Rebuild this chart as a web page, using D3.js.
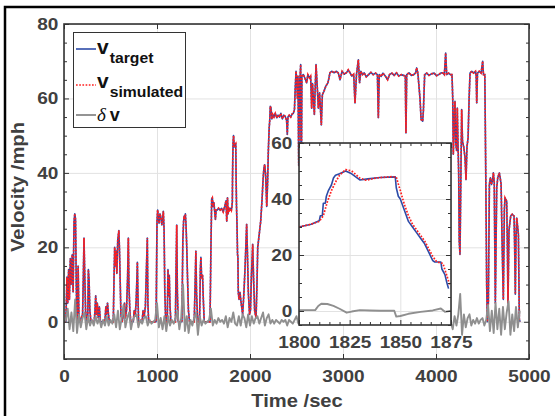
<!DOCTYPE html>
<html>
<head>
<meta charset="utf-8">
<script src="https://cdn.jsdelivr.net/npm/d3@7"></script>
<style>
  body { margin: 0; background: #fff; }
  svg { display: block; font-family: "Liberation Sans", Arial, sans-serif; }
</style>
</head>
<body>
<svg id="chart" width="555" height="416"></svg>
<script>
// ============ Data ============
// main trace, [time s, speed mph]
const targetMain = [
  [0,0],[20,0],[32,12],[40,5],[50,14],[58,6],[68,17],[76,10],[88,18],[98,8],[108,27],[116,29],[124,27.5],[132,10],[140,0],
  [146,0],[152,15],[160,2],[170,0],[200,2],[208,12],[215,22.5],[222,14],[232,3],[245,0],[255,0],[262,14],[270,11],[278,3],[290,0],
  [325,0],[333,3],[341,7],[348,2],[358,5],[368,1],[380,4],[392,0],[440,0],[450,4],[458,2],[468,5],[478,2],[488,0],
  [530,0],[538,12],[545,20],[552,15],[560,19],[568,13],[578,22],[590,24.5],[597,19],[604,11],[612,2],[625,0],[640,2],[650,5],[660,1],
  [672,3],[684,12],[692,22.5],[698,10],[708,3],[718,0],[745,0],[755,3],[765,1.5],[775,5],[782,10],[789,16],[795,7],[802,0],
  [840,0],[850,3],[862,1.5],[875,4],[886,14],[896,22.5],[902,5],[910,0],[990,0],[1000,27],[1007,30],[1014,28],[1022,26.5],
  [1032,29],[1042,28],[1052,26],[1062,28],[1068,29.7],[1076,25],[1084,8],[1094,0],[1110,0],[1118,14],[1125,7],[1132,12.5],[1140,4],[1150,0],
  [1198,0],[1205,14],[1212,26],[1219,8],[1228,0],[1268,0],[1278,22],[1286,27],[1292,28.4],[1298,27.5],[1305,29],[1312,26],[1320,20],
  [1328,12],[1338,3],[1350,0],[1400,0],[1410,10],[1418,19],[1425,8],[1434,2],[1444,0],[1458,0],[1466,14],[1472,17.3],[1480,11.8],
  [1490,12.5],[1498,6],[1508,0],[1570,0],
  [1580,20],[1588,33],[1595,33.3],[1603,31],[1612,32],[1620,29.7],[1628,27.5],[1636,30],[1648,30],[1662,30.5],[1678,30],[1695,30.5],
  [1712,29.5],[1728,31],[1742,32.5],[1750,27],[1758,33.3],[1765,29],[1772,30.6],[1782,30],[1792,30.5],[1800,30],[1806,31],[1810,32.2],
  [1812,38],[1815,44],[1818,48],[1823,50],[1827,48.5],[1832,47],[1840,47.7],[1847,47.9],[1850,40],[1855,31],[1860,26.5],[1866,18],
  [1870,17.5],[1874,8],[1882,6],[1892,7.9],[1905,5],[1921,2],[1935,8],[1946,14],[1955,20],[1964,26.2],[1972,19],[1982,8],[1995,2],
  [2005,3],[2015,12],[2029,20.8],[2038,12],[2050,3],[2065,1],[2075,10],[2083,19.9],[2095,22.6],[2115,27],[2130,33],[2140,38],
  [2150,41.4],[2158,42.2],[2168,39.6],[2180,31],[2190,38],[2197,45.8],[2206,52],[2212,54],[2218,57.9],[2226,57.4],
  [2235,54.5],[2245,55.7],[2258,55],[2272,56],[2288,54.8],[2302,55.5],[2318,55],[2332,56],[2348,54.5],[2362,55.5],[2378,55.2],
  [2394,54],[2401,50.3],[2408,55],[2422,55.5],[2438,55],[2452,55.8],[2466,56],[2478,57],[2487,63],[2495,67.3],[2502,65],[2510,60],
  [2516,66],[2524,42],[2532,64],[2540,66.5],[2545,69.1],[2551,30],[2558,66],[2573,66.4],[2590,65.5],[2609,64.2],[2622,66.4],
  [2640,65.5],[2652,66],[2663,57.4],[2672,64],[2692,55.7],[2700,62],[2710,69.1],[2722,63.7],[2735,57.4],[2748,61.5],[2767,52.9],
  [2778,61],[2795,61.9],[2815,63.3],[2838,64.2],[2860,66.9],[2878,67.3],[2905,66.9],[2930,67.3],[2950,66.8],[2968,65],[2990,67.3],
  [3015,66.5],[3040,67],[3057,67.7],[3075,66.9],[3095,66],[3115,66.5],[3129,58.8],[3145,66.4],[3165,70.4],[3178,64.2],[3192,67.3],
  [3210,66.4],[3228,66.9],[3250,65.8],[3275,66.4],[3300,67],[3325,66.4],[3350,66.8],[3370,66.4],[3380,54.8],[3390,66.4],[3410,65.9],
  [3430,66.8],[3455,66],[3480,65],[3500,66.4],[3525,66.8],[3550,66.2],[3575,66.9],[3600,66],[3625,66.4],[3650,66.2],[3670,66],
  [3677,50.7],[3685,66.4],[3710,66.9],[3735,66.2],[3760,66.4],[3780,66.8],[3792,68.2],[3805,66.8],[3828,60],[3840,54.3],[3857,53.9],
  [3865,57],[3878,66.4],[3900,66.8],[3925,66.2],[3950,66.6],[3980,66.8],[4005,66.1],[4030,66.4],[4055,66.9],[4075,66.8],[4090,66.4],
  [4104,72.2],[4115,66.4],[4135,66.8],[4155,66.4],[4172,66.4],
  [4180,60],[4186,45],[4194,52],[4204,59.2],[4212,48],[4222,46],[4229,57.4],[4236,48.5],[4244,40],[4250,21.7],[4258,18.1],
  [4268,40],[4276,57],[4285,48.5],[4300,46.7],[4312,44],[4323,38.2],[4333,47],[4345,49.4],[4356,60],[4366,66.8],[4385,67.3],
  [4405,66.8],[4425,67.3],[4432,66],[4438,58.8],[4446,66.8],[4465,67.3],[4485,66.8],[4497,69],[4502,70],[4510,66.4],[4525,66.4],
  [4535,40],[4545,10],[4552,0],[4563,5.2],[4574,36.9],[4585,38.7],[4596,36.9],[4608,38],[4617,40],[4626,37.6],[4638,5],[4653,36],
  [4664,38.7],[4681,40],[4690,38.7],[4700,36.9],[4712,20],[4724,6],[4735,30],[4742,33.3],[4760,32.4],[4768,20],[4774,5],[4785,24.6],
  [4803,28.4],[4820,28.9],[4839,28.4],[4846,20],[4853,7.4],[4860,22],[4868,27.9],[4886,23.5],[4892,10],[4896,0.6],[4905,0]
];
// the simulated trace sits on the target at this scale
const simulatedMain = targetMain;

// speed error, one sample every 20 s from t = 0
const dvStart = 0, dvStep = 20;
const deltaMain = [
  0, 0.5, 3.5, -2, 2.5, -2.5, 6, -3, 2, -1.5,
  1, 2.5, -2, 1.5, -1, 0.5, -1, 1.5, -0.5, 1,
  -1.5, 0.5, -1, 1.5, -1, 0.5, -0.5, 2, -1.5, 3,
  -2, 1, 4.5, -1.5, 1, 2.5, -2, 0.5, 1.5, 2,
  -1.5, 0.5, -0.5, 1, 1.5, -1, 0.5, -0.5, 0, 0.5,
  5, -1.5, 1, -2, 1.5, -2.5, 1.5, -1, 0.5, -0.5,
  1, 3, -2, 1, 10, -2.5, 1.5, -3, 0.5, -1,
  1, 2.5, -3.5, 1.5, -1, 0.5, -0.5, 0, 0.5, 3.5,
  -1, 0.5, -0.5, 1, 0, 0.5, -0.5, 1.5, -1.5, 1,
  0, 2.5, -0.5, -1, 1.5, -1, 2, 1, -1.5, 2,
  -1, 1.5, -0.5, 1, 1.5, -0.5, 1, 2.5, -1, 1,
  2, -0.5, 0.5, -0.5, 0.5, 0, -0.5, 0.5, 0, 0.5,
  -1, 0.5, 0, -0.5, 0.5, 1.5, -0.5, 0.3, -0.4, 0.2,
  -0.3, 0.4, -0.2, 0.3, -0.5, 0.2, 0.4, -0.3, 0.1, -0.4,
  0.3, -0.2, 0.4, -0.3, 0.2, -0.5, 0.3, 0.1, -0.2, 0.4,
  -0.3, 0.2, -0.4, 0.3, 0.1, -0.2, 0.4, -0.3, 0.5, -0.4,
  0.2, -0.1, 0.3, -0.4, 0.2, 0.1, -0.3, 0.4, -0.2, 0.5,
  -0.4, 0.2, -0.1, 0.3, -0.3, 0.2, 0.4, -0.2, 0.1, -0.3,
  0.3, -0.4, 0.2, 0.5, -0.5, 0.2, -0.1, 0.3, -0.2, 0.4,
  -0.3, 0.5, -0.4, 0.2, 0.1, -0.3, 0.3, -0.2, 0.2, -0.1,
  0.3, -0.2, 0.4, -0.3, 0.2, 0.5, -0.4, 0.2, -0.3, -2,
  1.5, -1, 2, 7.5, -3.5, 2, -1.5, 1, 2, -1,
  0.5, -0.5, 1, -0.5, 0.5, 1, -1, 0.5, 4.5, -2.5,
  3, -3, 5, -2, 3.5, -3.5, 4, -2, 2.5, 5.5,
  -3.5, 2, -2.5, 4, -1.5, 3
];

// zoomed window 1800-1875 s
const targetZoom = [
  [1800,30],[1806,31],[1810,32.2],[1810.5,34],[1811.5,34],[1812,38.5],[1813,38.5],[1813.5,41],[1814.5,43],[1816,45],
  [1817,47.5],[1818,48.5],[1820,49],[1823,50],[1826,49],[1830,46.8],[1834,47.2],[1840,47.7],[1847.5,47.9],[1848,44],
  [1849,41],[1850,40],[1852,36],[1854,32],[1856,30],[1858,28],[1860,26],[1862,24],[1864,21],[1866,18],[1867,17.5],
  [1870,17.5],[1870.5,15],[1872,13],[1873,10],[1873.8,8]
];
const simulatedZoom = [
  [1800,30],[1806,31],[1810,32],[1812,34],[1814,39],[1816,43],[1818,46],[1820,48.5],[1823,50.5],[1826,50],[1830,47.5],
  [1833,46.7],[1838,47.5],[1846,48],[1848,47.8],[1850,43],[1852,38],[1854,34],[1856,31],[1858,29],[1862,25],[1866,19.5],
  [1868,17.5],[1871,17],[1873,12.5],[1874.5,9]
];
const deltaZoom = [
  [1800,0.3],[1808,0.3],[1809.5,1.8],[1811,2.6],[1814,2.5],[1817,1.8],[1820,0.8],[1823.5,-0.6],[1826,-0.2],[1830,0.3],
  [1835,0.2],[1840,0.1],[1847,0.1],[1848,-2],[1850,-1.8],[1854,-1],[1860,-0.3],[1866,0.2],[1870,0.9],[1872,-0.3],[1875,0.1]
];

const mainXTicks = [0, 1000, 2000, 3000, 4000, 5000];
const mainYTicks = [0, 20, 40, 60, 80];
const mainYMinor = [-10, -5, 5, 10, 15, 25, 30, 35, 45, 50, 55, 65, 70, 75];
const zoomXTicks = [1800, 1825, 1850, 1875];
const zoomXMinor = [1805, 1810, 1815, 1820, 1830, 1835, 1840, 1845, 1855, 1860, 1865, 1870];
const zoomYTicks = [0, 20, 40, 60];
const zoomYMinor = [-5, 5, 10, 15, 25, 30, 35, 45, 50, 55];

// ============ Styles ============
const INK = '#404040', AXIS = '#333333', GRID = '#e2e2e2';
const BLUE = '#2c4ba8', RED = '#ff1f1f', GREY = '#8f8f8f';
const SX = 1.12; // glyphs in the reference are a bit wider than Arial

const svg = d3.select('#chart');

// outer frame (only top and left edges show)
svg.append('path').attr('d', 'M5,416V7H555')
  .attr('fill', 'none').attr('stroke', '#000').attr('stroke-width', 2.5);

// ============ Main axes ============
const x = d3.scaleLinear().domain([0, 5000]).range([64, 529]);
const y = d3.scaleLinear().domain([-10, 80]).range([359, 24]);

function drawGrid(g, xs, ys, xt, yt) {
  const [x0, x1] = xs.range(), [y0, y1] = ys.range();
  g.append('g').attr('transform', `translate(0,${y0})`)
    .call(d3.axisBottom(xs).tickValues(xt).tickSize(-(y0 - y1)).tickFormat(''))
    .call(a => a.select('.domain').remove())
    .call(a => a.selectAll('line').attr('stroke', GRID));
  g.append('g').attr('transform', `translate(${x0},0)`)
    .call(d3.axisLeft(ys).tickValues(yt).tickSize(-(x1 - x0)).tickFormat(''))
    .call(a => a.select('.domain').remove())
    .call(a => a.selectAll('line').attr('stroke', GRID));
}

function drawTicks(g, xs, ys, o) {
  const [x0, x1] = xs.range(), [y0, y1] = ys.range();
  const fmt = d3.format('d');
  const styleText = sel => sel.selectAll('text')
    .attr('fill', INK).attr('font-size', o.font).attr('font-weight', 'bold')
    .attr('font-family', '"Liberation Sans", Arial, sans-serif')
    .attr('transform', `scale(${SX},1)`);
  const clean = a => { a.select('.domain').remove(); a.selectAll('line').attr('stroke', AXIS); };

  // bottom with labels
  g.append('g').attr('transform', `translate(0,${y0})`)
    .call(d3.axisBottom(xs).tickValues(o.xt).tickFormat(fmt).tickSize(-5).tickPadding(o.xPad))
    .call(clean).call(styleText);
  // left with labels
  g.append('g').attr('transform', `translate(${x0},0)`)
    .call(d3.axisLeft(ys).tickValues(o.yt).tickFormat(fmt).tickSize(-5).tickPadding(o.yPad))
    .call(clean).call(styleText);
  // top / right majors
  g.append('g').attr('transform', `translate(0,${y1})`)
    .call(d3.axisTop(xs).tickValues(o.xt).tickSize(-5).tickFormat('')).call(clean);
  g.append('g').attr('transform', `translate(${x1},0)`)
    .call(d3.axisRight(ys).tickValues(o.yt).tickSize(-5).tickFormat('')).call(clean);
  // minors
  if (o.xm) {
    g.append('g').attr('transform', `translate(0,${y0})`)
      .call(d3.axisBottom(xs).tickValues(o.xm).tickSize(-3).tickFormat('')).call(clean);
    g.append('g').attr('transform', `translate(0,${y1})`)
      .call(d3.axisTop(xs).tickValues(o.xm).tickSize(-3).tickFormat('')).call(clean);
  }
  if (o.ym) {
    g.append('g').attr('transform', `translate(${x0},0)`)
      .call(d3.axisLeft(ys).tickValues(o.ym).tickSize(-3).tickFormat('')).call(clean);
    g.append('g').attr('transform', `translate(${x1},0)`)
      .call(d3.axisRight(ys).tickValues(o.ym).tickSize(-3).tickFormat('')).call(clean);
  }
  // box
  g.append('rect').attr('x', x0).attr('y', y1)
    .attr('width', x1 - x0).attr('height', y0 - y1)
    .attr('fill', 'none').attr('stroke', AXIS).attr('stroke-width', 1.6);
}

function drawTraces(g, xs, ys, clipId, target, sim, delta) {
  const [x0, x1] = xs.range(), [y0, y1] = ys.range();
  svg.append('clipPath').attr('id', clipId)
    .append('rect').attr('x', x0).attr('y', y1).attr('width', x1 - x0).attr('height', y0 - y1);
  const line = d3.line().x(d => xs(d[0])).y(d => ys(d[1]));
  const lg = g.append('g').attr('clip-path', `url(#${clipId})`);
  lg.append('path').datum(target).attr('d', line)
    .attr('fill', 'none').attr('stroke', BLUE).attr('stroke-width', 1.6).attr('stroke-linejoin', 'round');
  lg.append('path').datum(sim).attr('d', line)
    .attr('fill', 'none').attr('stroke', RED).attr('stroke-width', 1.7).attr('stroke-dasharray', '1.7,1.5');
  lg.append('path').datum(delta).attr('d', line)
    .attr('fill', 'none').attr('stroke', GREY).attr('stroke-width', 1.9).attr('stroke-linejoin', 'round');
}

const mainG = svg.append('g');
drawGrid(mainG, x, y, mainXTicks, mainYTicks);
const deltaMainPts = deltaMain.map((v, i) => [dvStart + i * dvStep, v]);
drawTraces(mainG, x, y, 'clip-main', targetMain, simulatedMain, deltaMainPts);
drawTicks(mainG, x, y, { xt: mainXTicks, yt: mainYTicks, ym: mainYMinor, font: 17, xPad: 11, yPad: 5 });

// axis titles
svg.append('text').attr('transform', `translate(297,407) scale(${SX},1)`)
  .attr('text-anchor', 'middle').attr('font-size', 18).attr('font-weight', 'bold').attr('fill', INK)
  .text('Time /sec');
svg.append('text').attr('transform', `translate(24,187) rotate(-90) scale(${SX},1)`)
  .attr('text-anchor', 'middle').attr('font-size', 18).attr('font-weight', 'bold').attr('fill', INK)
  .text('Velocity /mph');

// ============ Inset ============
const xi = d3.scaleLinear().domain([1800, 1875]).range([299, 451]);
const yi = d3.scaleLinear().domain([-5, 60]).range([325, 143]);
const insetG = svg.append('g');
insetG.append('rect').attr('x', 299).attr('y', 143).attr('width', 152).attr('height', 182).attr('fill', '#fff');
drawGrid(insetG, xi, yi, zoomXTicks, zoomYTicks);
drawTraces(insetG, xi, yi, 'clip-inset', targetZoom, simulatedZoom, deltaZoom);
drawTicks(insetG, xi, yi, { xt: zoomXTicks, yt: zoomYTicks, xm: zoomXMinor, ym: zoomYMinor, font: 17, xPad: 11, yPad: 6 });

// ============ Legend ============
const leg = svg.append('g');
leg.append('rect').attr('x', 73.5).attr('y', 32.5).attr('width', 112).attr('height', 95)
  .attr('fill', '#fff').attr('stroke', AXIS).attr('stroke-width', 1);
const legRows = [
  { y: 49, stroke: BLUE, dash: null, w: 1.6 },
  { y: 85, stroke: RED, dash: '1.7,1.5', w: 1.7 },
  { y: 115, stroke: GREY, dash: null, w: 1.9 }
];
legRows.forEach(r => {
  leg.append('line').attr('x1', 76).attr('x2', 96).attr('y1', r.y).attr('y2', r.y)
    .attr('stroke', r.stroke).attr('stroke-width', r.w).attr('stroke-dasharray', r.dash);
});
function vLabel(ty, sub) {
  const t = leg.append('text').attr('transform', `translate(97,${ty}) scale(1.05,1)`)
    .attr('fill', '#111').attr('font-weight', 'bold');
  t.append('tspan').attr('font-size', 20).text('v');
  t.append('tspan').attr('font-size', 15).attr('dy', 9).attr('dx', 1).text(sub);
}
vLabel(54, 'target');
vLabel(88, 'simulated');
const dl = leg.append('text').attr('transform', 'translate(97,121)').attr('fill', '#111');
dl.append('tspan').attr('font-family', '"Liberation Serif", "Times New Roman", serif')
  .attr('font-style', 'italic').attr('font-size', 19).text('δ');
dl.append('tspan').attr('font-weight', 'bold').attr('font-size', 18).attr('dx', 4).text('v');
</script>
</body>
</html>
